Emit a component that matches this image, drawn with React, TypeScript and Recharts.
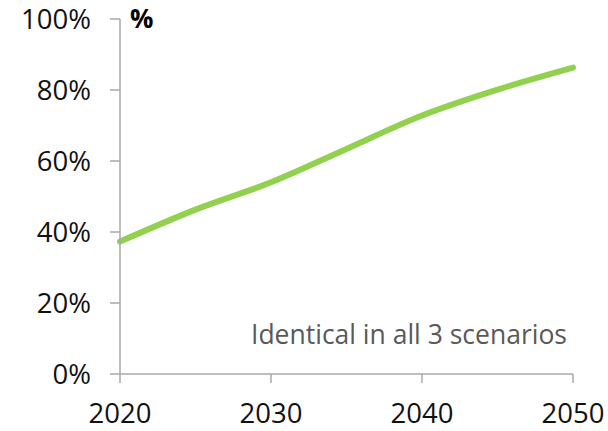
import { LineChart, Line, XAxis, YAxis, ReferenceDot } from "recharts";

const years = [2020, 2025, 2030, 2035, 2040, 2045, 2050];
const share = [37.3, 46.3, 54.0, 63.4, 72.8, 80.1, 86.3];
const xTicks = [2020, 2030, 2040, 2050];
const yTicks = [0, 20, 40, 60, 80, 100];

const data = years.map((year, i) => ({ year, share: share[i] }));

const axisGrey = "#a9a9a9";

export default function App() {
  return (
    <div
      style={{
        position: "absolute",
        left: 0,
        top: 0,
        width: 608,
        height: 431,
        background: "#fff",
        fontFamily: "'Open Sans', sans-serif",
      }}
    >
      <LineChart
        width={608}
        height={431}
        data={data}
        margin={{ top: 19, right: 35, left: 0, bottom: 0 }}
      >
        <XAxis
          dataKey="year"
          type="number"
          domain={[2020, 2050]}
          ticks={xTicks}
          height={57}
          stroke={axisGrey}
          strokeWidth={1.5}
          tickSize={9}
          tickMargin={20}
          tick={{ fontSize: 27.5, fill: "#111" }}
        />
        <YAxis
          type="number"
          domain={[0, 100]}
          ticks={yTicks}
          width={120}
          stroke={axisGrey}
          strokeWidth={1.5}
          tickSize={10}
          tickMargin={19}
          tickFormatter={(v: number) => `${v}%`}
          tick={{ fontSize: 27.5, fill: "#111" }}
        />
        {/* unit marker beside the top of the value axis */}
        <ReferenceDot
          x={2020}
          y={100}
          r={0}
          stroke="none"
          label={{ value: "%", position: "right", offset: 10, fontSize: 26, fontWeight: "bold", fill: "#000" }}
        />
        <ReferenceDot
          x={2050}
          y={11}
          r={0}
          stroke="none"
          label={{ value: "Identical in all 3 scenarios", position: "left", offset: 6, fontSize: 26.5, fill: "#595959" }}
        />
        <Line
          type="monotone"
          dataKey="share"
          stroke="#92d050"
          strokeWidth={6}
          strokeLinecap="round"
          dot={false}
          activeDot={false}
          isAnimationActive={false}
        />
      </LineChart>
    </div>
  );
}
